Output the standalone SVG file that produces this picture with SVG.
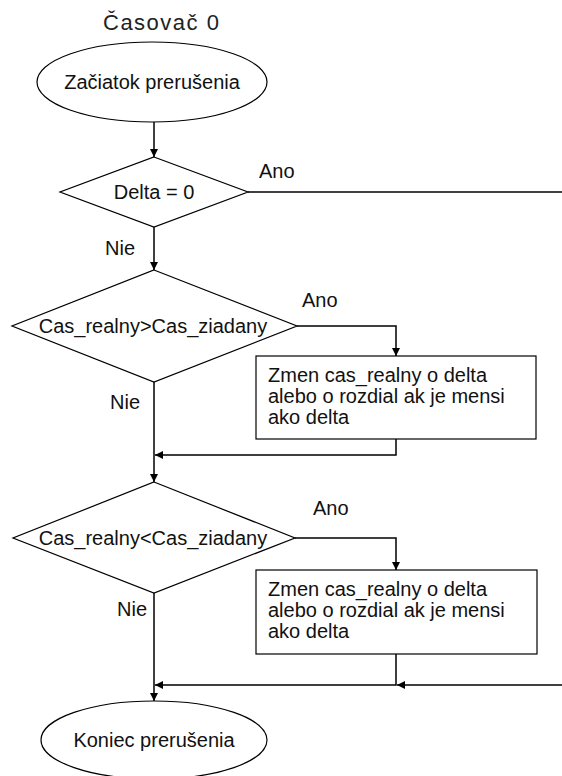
<svg xmlns="http://www.w3.org/2000/svg" width="562" height="776" viewBox="0 0 562 776">
<style>
.shape{fill:#fff;stroke:#000;stroke-width:1.2}
.t{font-family:"Liberation Sans",Arial,sans-serif;font-size:20px;fill:#111}
.c{text-anchor:middle}
.conn{fill:none;stroke:#000;stroke-width:1.5}
</style>
<defs>
<marker id="arr" markerUnits="userSpaceOnUse" markerWidth="10" markerHeight="10" refX="8" refY="4" orient="auto">
<path d="M0,0 L8,4 L0,8 z" fill="#000"/>
</marker>
</defs>
<rect width="562" height="776" fill="#fff"/>
<text class="t" x="103" y="30" style="font-size:22px;letter-spacing:1.5px;fill:#222">Časovač 0</text>
<g id="connectors">
<path class="conn" d="M154,122 V157" marker-end="url(#arr)"/>
<path class="conn" d="M248,192 H566"/>
<path class="conn" d="M154,227 V270" marker-end="url(#arr)"/>
<path class="conn" d="M297,326 H396 V356" marker-end="url(#arr)"/>
<path class="conn" d="M396,439 V455 H155" marker-end="url(#arr)"/>
<path class="conn" d="M154,382 V482" marker-end="url(#arr)"/>
<path class="conn" d="M295,538 H396 V570" marker-end="url(#arr)"/>
<path class="conn" d="M396,654 V685 H155" marker-end="url(#arr)"/>
<path class="conn" d="M566,685 H397" marker-end="url(#arr)"/>
<path class="conn" d="M154,593 V701" marker-end="url(#arr)"/>
</g>
<g id="start">
<ellipse class="shape" cx="152" cy="82" rx="115" ry="40"/>
<text class="t c" x="152" y="89">Začiatok prerušenia</text>
</g>
<g id="dec1">
<polygon class="shape" points="154,157 248,192 154,227 60,192"/>
<text class="t c" x="154" y="199">Delta = 0</text>
<text class="t" x="259" y="178">Ano</text>
<text class="t" x="105" y="255">Nie</text>
</g>
<g id="dec2">
<polygon class="shape" points="154,270 297,326 154,382 12,326"/>
<text class="t c" x="153" y="333">Cas_realny&gt;Cas_ziadany</text>
<text class="t" x="302" y="307">Ano</text>
<text class="t" x="110" y="409">Nie</text>
</g>
<g id="proc1">
<rect class="shape" x="256" y="356" width="280" height="83"/>
<text class="t" x="268" y="382">Zmen cas_realny o delta</text>
<text class="t" x="268" y="403">alebo o rozdial ak je mensi</text>
<text class="t" x="268" y="424">ako delta</text>
</g>
<g id="dec3">
<polygon class="shape" points="154,482 295,538 154,593 13,538"/>
<text class="t c" x="153" y="545">Cas_realny&lt;Cas_ziadany</text>
<text class="t" x="313" y="515">Ano</text>
<text class="t" x="117" y="616">Nie</text>
</g>
<g id="proc2">
<rect class="shape" x="256" y="570" width="281" height="84"/>
<text class="t" x="268" y="596">Zmen cas_realny o delta</text>
<text class="t" x="268" y="617">alebo o rozdial ak je mensi</text>
<text class="t" x="268" y="638">ako delta</text>
</g>
<g id="end">
<ellipse class="shape" cx="154" cy="740" rx="113" ry="39"/>
<text class="t c" x="154" y="747">Koniec prerušenia</text>
</g>
</svg>
